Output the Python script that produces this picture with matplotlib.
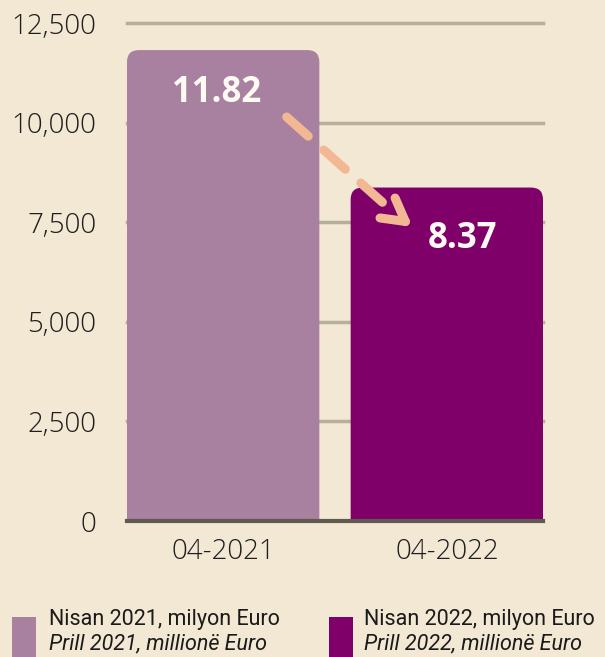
import matplotlib
matplotlib.use("Agg")
import matplotlib.pyplot as plt
from matplotlib.patches import FancyBboxPatch, Rectangle
from matplotlib import font_manager

categories = ["04-2021", "04-2022"]
values = [11820, 8370]
value_labels = ["11.82", "8.37"]
yticks = [0, 2500, 5000, 7500, 10000, 12500]
ytick_labels = ["0", "2,500", "5,000", "7,500", "10,000", "12,500"]
legend_line1 = ["Nisan 2021, milyon Euro", "Nisan 2022, milyon Euro"]
legend_line2 = ["Prill 2021, millionë Euro", "Prill 2022, millionë Euro"]
colors = ["#A880A0", "#7F0068"]

BG = "#F2E8D3"
W, H = 605, 657
fig = plt.figure(figsize=(W / 100, H / 100), dpi=100, facecolor=BG)
ax = fig.add_axes([127 / W, (H - 521) / H, 416 / W, 498 / H], facecolor=BG)

names = {f.name for f in font_manager.fontManager.ttflist}
tick_font = "Open Sans" if "Open Sans" in names else "DejaVu Sans"
narrow = "Liberation Sans Narrow" if "Liberation Sans Narrow" in names else "Roboto"

ax.set_xlim(-0.43, 1.43)
ax.set_ylim(0, 12500)
for s in ax.spines.values():
    s.set_visible(False)

for t in yticks[1:]:
    ax.axhline(t, color="#B5AF9C", lw=2.5, zorder=1, clip_on=False)

width = 0.86
xpp = 1.86 / 416
ypp = 12500 / 498
r_px = 12
for i, v in enumerate(values):
    p = FancyBboxPatch((i - width / 2, -2000), width, v + 2000,
                       boxstyle=f"round,pad=0,rounding_size={r_px * xpp}",
                       mutation_aspect=ypp / xpp,
                       facecolor=colors[i], edgecolor="none", zorder=2)
    ax.add_patch(p)

ax.axhline(0, color="#5E5A50", lw=3, zorder=3, clip_on=False)

ax.set_yticks(yticks)
ax.set_yticklabels(ytick_labels, fontfamily=tick_font, fontsize=20, color="#1E1E1E")
ax.set_xticks(range(len(categories)))
ax.set_xticklabels(categories, fontfamily=tick_font, fontsize=20, color="#1E1E1E")
ax.tick_params(axis="both", length=0)
ax.tick_params(axis="y", pad=22)
ax.tick_params(axis="x", pad=12)
for lab in ax.get_yticklabels() + ax.get_xticklabels():
    lab.set_fontweight("light")

# value labels
ax.text(0 - 0.03, values[0] - 1070, value_labels[0], ha="center", va="center",
        fontfamily=tick_font, fontweight="bold", fontsize=25, color="#FFFBF2", zorder=5)
ax.text(1 + 0.07, values[1] - 1280, value_labels[1], ha="center", va="center",
        fontfamily=tick_font, fontweight="bold", fontsize=25, color="#FFFBF2", zorder=5)

# dashed arrow
arrow_col = "#F2B894"
start = (0.284, 10141)
shaft_end = (0.778, 7670)
tip = (0.847, 7380)
ax.plot([start[0], shaft_end[0]], [start[1], shaft_end[1]], color=arrow_col, lw=6.5,
        linestyle=(0, (3.2, 2.3)), solid_capstyle="round", dash_capstyle="round", zorder=6)
ax.annotate("", xy=tip, xytext=(0.80, 7580),
            arrowprops=dict(arrowstyle="->,head_length=1.6,head_width=0.9", color=arrow_col,
                            lw=6.5, capstyle="round", joinstyle="round",
                            shrinkA=0, shrinkB=0), zorder=6)

# legend
for i in range(2):
    x0 = [12, 329][i]
    fig.patches.append(Rectangle((x0 / W, 0), 24 / W, (H - 617) / H, transform=fig.transFigure,
                                 facecolor=colors[i], edgecolor="none"))
    tx = [49, 364][i]
    fig.text(tx / W, (H - 619) / H, legend_line1[i], fontfamily=narrow, fontsize=15.5,
             color="#1A1A1A", va="center", ha="left")
    fig.text(tx / W, (H - 644) / H, legend_line2[i], fontfamily=narrow, fontsize=15.5,
             style="italic", color="#1A1A1A", va="center", ha="left")

fig.savefig("out.png", dpi=100, facecolor=BG)
